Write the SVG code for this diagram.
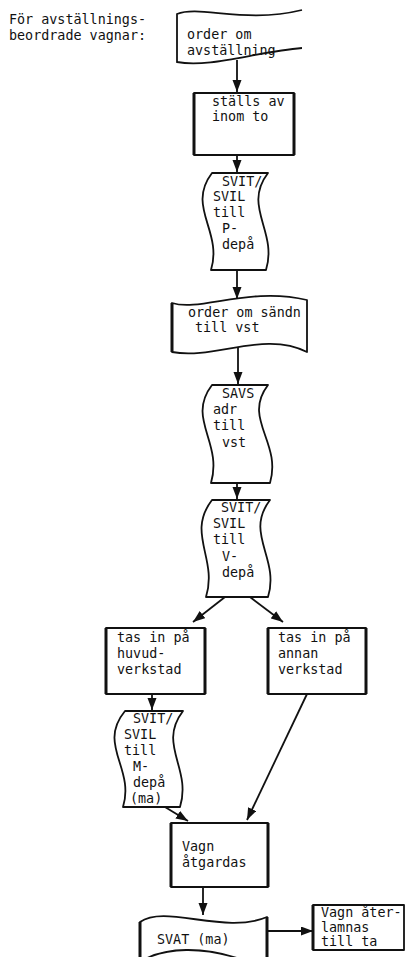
<svg xmlns="http://www.w3.org/2000/svg" width="407" height="957" viewBox="0 0 407 957">
<style>
text{font-family:"DejaVu Sans Mono","Liberation Mono",monospace;font-size:13.4px;fill:#111}
.s{fill:#fff;stroke:#111;stroke-width:1.8;stroke-linejoin:round}
.o{fill:none;stroke:#111;stroke-width:1.8}
.side{stroke:#111;stroke-width:3}
.c{fill:none;stroke:#111;stroke-width:1.8;marker-end:url(#ah)}
</style>
<defs>
<marker id="ah" markerWidth="13" markerHeight="10" refX="12" refY="4.5" orient="auto" markerUnits="userSpaceOnUse">
<path d="M0,0 L12,4.5 L0,9 Z" fill="#111"/>
</marker>
</defs>
<rect width="407" height="957" fill="#fff"/>
<g id="header">
<text x="9" y="24">För avställnings-</text>
<text x="9" y="40">beordrade vagnar:</text>
</g>
<g id="connectors">
<path class="c" d="M237,60 L237,92"/>
<path class="c" d="M237,155 L237,172"/>
<path class="c" d="M237,270 L237,299"/>
<path class="c" d="M238,347 L238,384"/>
<path class="c" d="M237,483 L237,499"/>
<path class="c" d="M225,597 L193,622"/>
<path class="c" d="M250,597 L283,622"/>
<path class="c" d="M152,694 L152,710"/>
<path class="c" d="M165,807 L188,821"/>
<path class="c" d="M307,694 L247,820"/>
<path class="c" d="M203,887 L203,915"/>
<path class="c" d="M267,931 L313,931"/>
</g>
<g id="n1">
<path class="o" d="M302,10 C245,24 200,5 177,14 L177,62 C210,68 255,52 302,48"/>
<text x="187" y="39">order om</text>
<text x="187" y="55">avställning</text>
</g>
<g id="n2">
<rect class="s" x="194" y="93" width="100" height="62"/>
<line class="side" x1="194" y1="93" x2="194" y2="155"/>
<line class="side" x1="294" y1="93" x2="294" y2="155"/>
<text x="212" y="106">ställs av</text>
<text x="212" y="121">inom to</text>
</g>
<g id="n3">
<path class="s" d="M212,173 L268,173 C242,207 278,231 266,270 L211,270 C223,231 186,207 212,173 Z"/>
<text x="222" y="186">SVIT/</text>
<text x="213" y="201">SVIL</text>
<text x="213" y="217">till</text>
<text x="222" y="233">P-</text>
<text x="222" y="249">depå</text>
</g>
<g id="n4">
<path class="s" d="M172,303 C200,312 250,286 307,300 L307,352 C265,330 215,360 172,352 Z"/>
<line class="side" x1="172" y1="303" x2="172" y2="352"/>
<text x="188" y="317">order om sändn</text>
<text x="195" y="332">till vst</text>
</g>
<g id="n5">
<path class="s" d="M212,385 L268,385 C242,419 282,442 270,483 L211,483 C223,442 186,419 212,385 Z"/>
<text x="222" y="398">SAVS</text>
<text x="213" y="414">adr</text>
<text x="213" y="430">till</text>
<text x="222" y="447">vst</text>
</g>
<g id="n6">
<path class="s" d="M212,500 L270,500 C244,534 280,558 268,597 L206,597 C218,558 186,534 212,500 Z"/>
<text x="221" y="512">SVIT/</text>
<text x="213" y="528">SVIL</text>
<text x="213" y="544">till</text>
<text x="222" y="561">V-</text>
<text x="222" y="577">depå</text>
</g>
<g id="n7">
<rect class="s" x="106" y="628" width="99" height="66"/>
<line class="side" x1="106" y1="628" x2="106" y2="694"/>
<line class="side" x1="205" y1="628" x2="205" y2="694"/>
<text x="117" y="642">tas in på</text>
<text x="117" y="658">huvud-</text>
<text x="117" y="674">verkstad</text>
</g>
<g id="n8">
<rect class="s" x="268" y="628" width="98" height="66"/>
<line class="side" x1="268" y1="628" x2="268" y2="694"/>
<line class="side" x1="366" y1="628" x2="366" y2="694"/>
<text x="278" y="642">tas in på</text>
<text x="278" y="658">annan</text>
<text x="278" y="674">verkstad</text>
</g>
<g id="n9">
<path class="s" d="M125,711 L183,711 C157,745 192,768 180,807 L123,807 C135,768 97,745 125,711 Z"/>
<text x="133" y="723">SVIT/</text>
<text x="124" y="739">SVIL</text>
<text x="124" y="755">till</text>
<text x="133" y="771">M-</text>
<text x="133" y="787">depå</text>
<text x="130" y="803">(ma)</text>
</g>
<g id="n10">
<rect class="s" x="171" y="823" width="97" height="64"/>
<line class="side" x1="171" y1="823" x2="171" y2="887"/>
<line class="side" x1="268" y1="823" x2="268" y2="887"/>
<text x="182" y="851">Vagn</text>
<text x="182" y="867">åtgardas</text>
</g>
<g id="n11">
<path class="s" d="M140,922 C165,904 225,935 267,917 L267,962 L140,962 Z"/>
<path class="o" d="M140,962 C165,946 205,947 240,959"/>
<line class="side" x1="140" y1="922" x2="140" y2="957"/>
<line class="side" x1="267" y1="917" x2="267" y2="957"/>
<text x="157" y="944">SVAT (ma)</text>
</g>
<g id="n12">
<rect class="s" x="313" y="905" width="91" height="45"/>
<line class="side" x1="313" y1="905" x2="313" y2="950"/>
<text x="321" y="917">Vagn åter-</text>
<text x="321" y="932">lamnas</text>
<text x="321" y="946">till ta</text>
</g>
</svg>
